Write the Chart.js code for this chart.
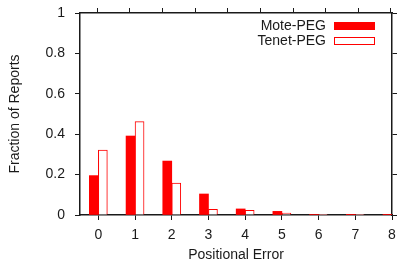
<!DOCTYPE html>
<html>
<head>
<meta charset="utf-8">
<script src="https://cdn.jsdelivr.net/npm/chart.js@4.4.0/dist/chart.umd.min.js"></script>
<style>
  html, body { margin: 0; padding: 0; background: #fff; }
  canvas { display: block; }
</style>
</head>
<body>
<canvas id="myChart" width="398" height="264"></canvas>
<script>
// data
var errors = [0, 1, 2, 3, 4, 5, 6, 7, 8];
var motePeg = [0.195, 0.391, 0.267, 0.104, 0.030, 0.018, 0.003, 0.001, 0.001];
var tenetPeg = [0.322, 0.462, 0.158, 0.028, 0.023, 0.010, 0.002, 0.001, 0.001];
var xTicks = [0, 1, 2, 3, 4, 5, 6, 7, 8];
var yTicks = [0, 0.2, 0.4, 0.6, 0.8, 1];
var seriesNames = ['Mote-PEG', 'Tenet-PEG'];

var font = { family: 'Liberation Sans, Arial, sans-serif', size: 14 };
var ink = '#1a1a1a';
var red = '#ff0000';

function points(vals) {
    return vals.map(function (v, i) { return { x: errors[i], y: v }; });
}

function setTicks(list) {
    return function (scale) {
        scale.ticks = list.map(function (v) { return { value: v }; });
    };
}

function plainLabel(v) {
    return String(v);
}

// fixed scale size, no extra room for overflowing labels
function fixSize(w, h) {
    return function (s) {
        if (w !== null) s.width = w;
        if (h !== null) s.height = h;
        s.paddingLeft = 0;
        s.paddingRight = 0;
        s.paddingTop = 0;
        s.paddingBottom = 0;
    };
}

// legend like gnuplot: text first, sample box to the right
var gnuLegend = {
    id: 'gnuLegend',
    afterDraw: function (chart) {
        var c = chart.ctx;
        var area = chart.chartArea;
        c.save();
        c.font = font.size + 'px ' + font.family;
        c.textAlign = 'right';
        c.textBaseline = 'middle';
        chart.data.datasets.forEach(function (ds, i) {
            var y = area.top + 13 + i * 15;
            var boxRight = area.right - 17;
            var boxLeft = boxRight - 41;
            c.fillStyle = ink;
            c.fillText(ds.label, boxLeft - 8, y);
            c.fillStyle = ds.backgroundColor;
            c.fillRect(boxLeft, y - 4, 41, 8);
            if (ds.borderWidth) {
                c.strokeStyle = ds.borderColor;
                c.lineWidth = 1;
                c.strokeRect(boxLeft + 0.5, y - 3.5, 40, 7);
            }
        });
        c.restore();
    }
};

var ctx = document.getElementById('myChart');
var chart = new Chart(ctx, {
    type: 'bar',
    data: {
        datasets: [{
            label: seriesNames[0],
            data: points(motePeg),
            backgroundColor: red,
            borderWidth: 0
        }, {
            label: seriesNames[1],
            data: points(tenetPeg),
            backgroundColor: '#ffffff',
            borderColor: red,
            borderWidth: 1
        }]
    },
    options: {
        responsive: false,
        animation: false,
        devicePixelRatio: 1,
        barThickness: 9,
        layout: { padding: 0 },
        plugins: {
            legend: { display: false },
            tooltip: { enabled: false }
        },
        scales: {
            x: {
                type: 'linear',
                position: 'bottom',
                min: -0.5,
                max: 8,
                offset: false,
                afterBuildTicks: setTicks(xTicks),
                afterFit: fixSize(null, 49),
                grid: { offset: false, drawOnChartArea: false, tickLength: 5, tickColor: ink, tickWidth: 1 },
                border: { color: ink, width: 1.5 },
                ticks: { color: ink, font: font, padding: 7, maxRotation: 0, callback: plainLabel },
                title: { display: true, text: 'Positional Error', color: ink, font: font, padding: 0 }
            },
            x2: {
                type: 'linear',
                position: 'top',
                min: -0.5,
                max: 8,
                afterBuildTicks: setTicks(xTicks),
                afterFit: fixSize(null, 13),
                grid: { drawOnChartArea: false, tickLength: 5, tickColor: ink, tickWidth: 1 },
                border: { color: ink, width: 1.5 },
                ticks: { display: false }
            },
            y: {
                type: 'linear',
                position: 'left',
                min: 0,
                max: 1,
                afterBuildTicks: setTicks(yTicks),
                afterFit: fixSize(80, null),
                grid: { drawOnChartArea: false, tickLength: 5, tickColor: ink, tickWidth: 1 },
                border: { color: ink, width: 1.5 },
                ticks: { color: ink, font: font, padding: 10, callback: plainLabel },
                title: { display: true, text: 'Fraction of Reports', color: ink, font: font, padding: { top: 7, bottom: 0 } }
            },
            y2: {
                type: 'linear',
                position: 'right',
                min: 0,
                max: 1,
                afterBuildTicks: setTicks(yTicks),
                afterFit: fixSize(6, null),
                grid: { drawOnChartArea: false, tickLength: 5, tickColor: ink, tickWidth: 1 },
                border: { color: ink, width: 1.5 },
                ticks: { display: false }
            }
        }
    },
    plugins: [gnuLegend]
});
</script>
</body>
</html>
